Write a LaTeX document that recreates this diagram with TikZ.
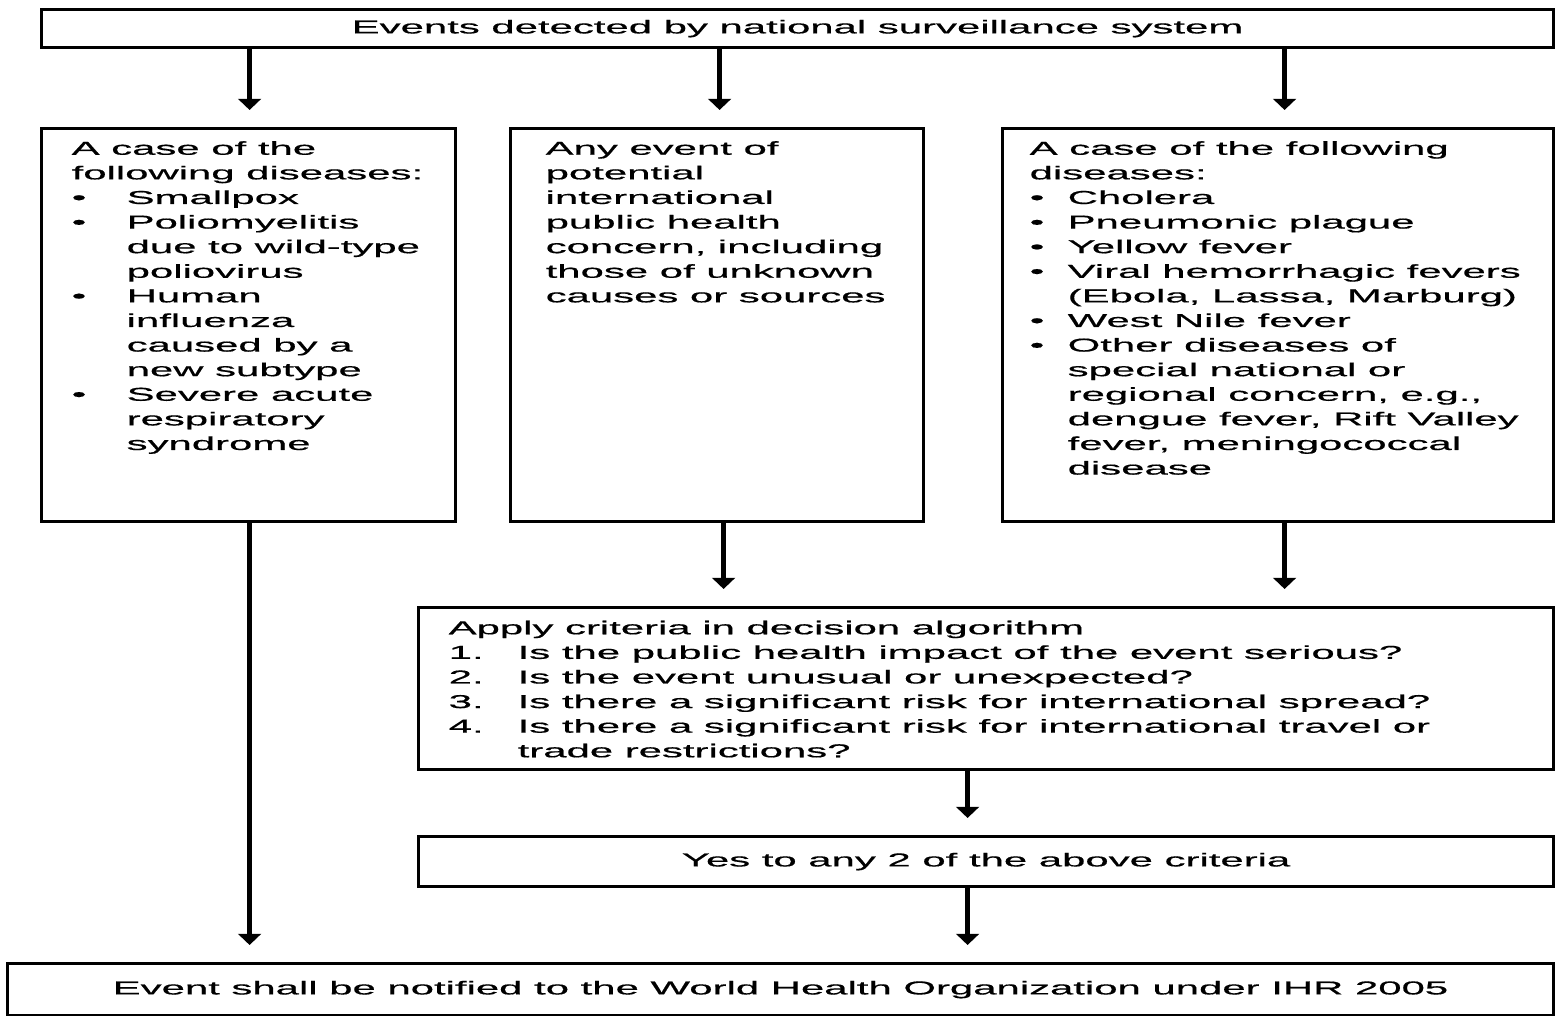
\documentclass[tikz,border=0pt]{standalone}
\usepackage{fontspec}
\setmainfont{Liberation Sans}[FakeStretch=2.24,FakeBold=0.6]
\usetikzlibrary{arrows.meta,positioning}
\def\fs{\fontsize{5.32}{7.0}\selectfont}
\def\bA{\makebox[0.55cm][l]{\textbullet}}
\def\iA{\hspace*{0.55cm}}
\def\bC{\makebox[0.38cm][l]{\textbullet}}
\def\iC{\hspace*{0.38cm}}
\def\nC#1{\makebox[0.69cm][l]{#1.}}
\def\iN{\hspace*{0.69cm}}

\begin{document}
\begin{tikzpicture}[
	box/.style={draw,line width=0.9pt,inner sep=0pt,anchor=north west,font=\fs},
	txt/.style={inner sep=0pt,align=left,font=\fs},
	arr/.style={-{Triangle[width=6.5pt,length=3.2pt]},line width=1.5pt,shorten >=0.17cm}]
\useasboundingbox (0,0) rectangle (15.58,-10.16);

% boxes
\node[box,minimum width=15.12cm,minimum height=0.38cm]	(b_top)		at (0.40,-0.08)		{Events detected by national surveillance system};
\node[box,minimum width=4.14cm,minimum height=3.93cm]	(b_left)	at (0.40,-1.27)		{};
\node[box,minimum width=4.13cm,minimum height=3.93cm]	(b_mid)		at (5.09,-1.27)		{};
\node[box,minimum width=5.51cm,minimum height=3.93cm]	(b_right)	at (10.01,-1.27)	{};
\node[box,minimum width=11.35cm,minimum height=1.62cm]	(b_crit)	at (4.17,-6.06)		{};
\node[box,minimum width=11.35cm,minimum height=0.50cm]	(b_yes)		at (4.17,-8.35)		{Yes to any 2 of the above criteria};
\node[box,minimum width=15.46cm,minimum height=0.52cm]	(b_notify)	at (0.06,-9.62)		{Event shall be notified to the World Health Organization under IHR 2005};

% texts
\node[txt]	(t_left)	[below right=0.135cm and 0.31cm of b_left.north west]
	{A case of the\\following diseases:\\\bA Smallpox\\\bA Poliomyelitis\\\iA due to wild-type\\\iA poliovirus\\\bA Human\\\iA influenza\\\iA caused by a\\\iA new subtype\\\bA Severe acute\\\iA respiratory\\\iA syndrome};
\node[txt]	(t_mid)		[below right=0.135cm and 0.36cm of b_mid.north west]
	{Any event of\\potential\\international\\public health\\concern, including\\those of unknown\\causes or sources};
\node[txt]	(t_right)	[below right=0.135cm and 0.28cm of b_right.north west]
	{A case of the following\\diseases:\\\bC Cholera\\\bC Pneumonic plague\\\bC Yellow fever\\\bC Viral hemorrhagic fevers\\\iC (Ebola, Lassa, Marburg)\\\bC West Nile fever\\\bC Other diseases of\\\iC special national or\\\iC regional concern, e.g.,\\\iC dengue fever, Rift Valley\\\iC fever, meningococcal\\\iC disease};
\node[txt]	(t_crit)	[below right=0.14cm and 0.31cm of b_crit.north west]
	{Apply criteria in decision algorithm\\\nC{1}Is the public health impact of the event serious?\\\nC{2}Is the event unusual or unexpected?\\\nC{3}Is there a significant risk for international spread?\\\nC{4}Is there a significant risk for international travel or\\\iN trade restrictions?};

% arrows
\coordinate (x_left)	at ([xshift=0.01cm]b_left.north);
\coordinate (x_mid)		at ([xshift=0.025cm]b_mid.north);
\coordinate (x_mid2)	at ([xshift=0.065cm]b_mid.south);
\coordinate (x_right)	at ([xshift=0.065cm]b_right.north);
\coordinate (x_crit)	at ([xshift=-0.185cm]b_crit.south);
\path[arr]
(b_top.south -| x_left)		edge	(x_left)
(b_top.south -| x_mid)		edge	(x_mid)
(b_top.south -| x_right)	edge	(x_right)
(b_left.south -| x_left)	edge	(b_notify.north -| x_left)
(x_mid2)					edge	(b_crit.north -| x_mid2)
(b_right.south -| x_right)	edge	(b_crit.north -| x_right)
(x_crit)					edge	(b_yes.north -| x_crit)
(b_yes.south -| x_crit)		edge	(b_notify.north -| x_crit)
;
\end{tikzpicture}
\end{document}
